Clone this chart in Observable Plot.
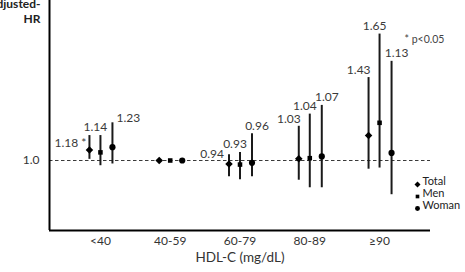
<!DOCTYPE html>
<html>
<head>
<meta charset="utf-8">
<script src="https://cdn.jsdelivr.net/npm/d3@7"></script>
<script src="https://cdn.jsdelivr.net/npm/@observablehq/plot@0.6"></script>
<style>
  html, body { margin: 0; padding: 0; background: #fff; }
  #chart { width: 465px; height: 272px; overflow: hidden; }
  #chart svg { overflow: visible; }
</style>
</head>
<body>
<div id="chart"></div>
<script>
// HDL-C categories (x axis) and groups
const categories = ["<40", "40-59", "60-79", "80-89", "≥90"];
const series = ["Total", "Men", "Woman"];

// Adjusted hazard ratios (point estimates)
const hrTotal = [1.18, 1.00, 0.94, 1.03, 1.43];
const hrMen   = [1.14, 1.00, 0.93, 1.04, 1.65];
const hrWoman = [1.23, 1.00, 0.96, 1.07, 1.13];

// 95% confidence limits
const loTotal = [1.02, 1.00, 0.72, 0.66, 0.85];
const hiTotal = [1.43, 1.00, 1.10, 1.59, 2.43];
const loMen   = [0.91, 1.00, 0.67, 0.53, 0.87];
const hiMen   = [1.43, 1.00, 1.14, 1.80, 3.18];
const loWoman = [0.94, 1.00, 0.72, 0.53, 0.41];
const hiWoman = [1.65, 1.00, 1.46, 1.95, 2.71];

const yTicks = [1.0];
const xTitle = "HDL-C (mg/dL)";
const yTitle = ["Adjusted-", "HR"];
const noteText = "* p<0.05";

// Build one table from the arrays
const values = {
  Total: [hrTotal, loTotal, hiTotal],
  Men:   [hrMen, loMen, hiMen],
  Woman: [hrWoman, loWoman, hiWoman]
};
const rows = [];
for (const s of series) {
  const [hr, lo, hi] = values[s];
  categories.forEach((c, i) => {
    rows.push({series: s, index: i, category: c, hr: hr[i], lo: lo[i], hi: hi[i],
               label: hr[i].toFixed(2) + (lo[i] > 1 ? " *" : "")});
  });
}

// Per-group styling
const symbolOf = {Total: "diamond2", Men: "square2", Woman: "circle"};
const radiusOf = {Total: 3.4, Men: 2.9, Woman: 3.1};
const offsetOf = {Total: -11, Men: 0, Woman: 12};

// Value labels sit just above each whisker; a few are set beside it to stay clear of neighbours
const labelStyle = {
  Total: {textAnchor: "end", dx: 2, dy: -7},
  Men:   {textAnchor: "middle", dx: -5, dy: -8},
  Woman: {textAnchor: "middle", dx: 5, dy: -8}
};
const labelBeside = {
  "<40|Total":   {textAnchor: "end", dx: -3, dy: 8},
  "60-79|Total": {textAnchor: "end", dx: -5, dy: -1},
  "<40|Woman":   {textAnchor: "start", dx: 4, dy: -5}
};

const pad = 0.73;
const xMin = -pad, xMax = categories.length - 1 + pad;
const yMin = -0.207, yMax = 3.759;

const marks = [
  // reference line at HR = 1
  Plot.ruleY(yTicks, {stroke: "#3a3a3a", strokeWidth: 1, strokeDasharray: "3.5,2.5"}),
  // axes
  Plot.axisY({ticks: yTicks, tickSize: 0, tickPadding: 10, tickFormat: d => d.toFixed(1),
              label: null, fontSize: 12, color: "#333"}),
  Plot.axisX({ticks: d3.range(categories.length), tickSize: 0, tickPadding: 6,
              tickFormat: i => categories[i], label: null, fontSize: 12, color: "#333"}),
  Plot.ruleX([xMin], {stroke: "#000", strokeWidth: 2}),
  Plot.ruleY([yMin], {stroke: "#000", strokeWidth: 2}),
  // axis titles and note
  Plot.text([xTitle], {frameAnchor: "bottom", dy: 31, text: d => d, fontSize: 13.5, fill: "#333"}),
  Plot.text([yTitle[0]], {frameAnchor: "top-left", dx: -9, dy: -1, textAnchor: "end", text: d => d,
                          fontSize: 12, fontWeight: "bold", fill: "#222"}),
  Plot.text([yTitle[1]], {frameAnchor: "top-left", dx: -9, dy: 14, textAnchor: "end", text: d => d,
                          fontSize: 12, fontWeight: "bold", fill: "#222"}),
  Plot.text([noteText], {frameAnchor: "top-right", dx: -26, dy: 35, textAnchor: "start",
                         text: d => d, fontSize: 10.5, fill: "#444"})
];

for (const s of series) {
  const data = rows.filter(d => d.series === s);
  const withCI = data.filter(d => d.lo !== d.hi);
  const dx = offsetOf[s];
  marks.push(
    Plot.ruleX(withCI, {x: "index", y1: "lo", y2: "hi", dx, stroke: "#1a1a1a", strokeWidth: 2}),
    Plot.dot(data, {x: "index", y: "hr", dx, symbol: symbolOf[s], r: radiusOf[s], fill: "#000", stroke: "none"})
  );
  for (const d of withCI) {
    const st = labelBeside[d.category + "|" + s] || labelStyle[s];
    marks.push(Plot.text([d], {x: "index", y: "hi", text: "label", fontSize: 12, fill: "#3a3a3a",
                               textAnchor: st.textAnchor, dx: dx + st.dx, dy: st.dy}));
  }
}

// legend in the lower-right corner of the plot
series.forEach((s, i) => {
  marks.push(
    Plot.dot([s], {frameAnchor: "bottom-right", dx: -13, dy: -46 + 12 * i,
                   symbol: symbolOf[s], r: radiusOf[s] * 0.8, fill: "#000", stroke: "none"}),
    Plot.text([s], {frameAnchor: "bottom-right", dx: -8, dy: -46 + 12 * i, textAnchor: "start",
                    text: d => d, fontSize: 11, fill: "#222"})
  );
});

const chart = Plot.plot({
  width: 465,
  height: 272,
  marginTop: 0,
  marginRight: 35,
  marginBottom: 42,
  marginLeft: 49,
  style: {fontFamily: "Lato, 'Open Sans', sans-serif", background: "#fff", overflow: "visible"},
  x: {type: "linear", domain: [xMin, xMax], axis: null},
  y: {type: "linear", domain: [yMin, yMax], axis: null},
  marks
});
document.getElementById("chart").appendChild(chart);
</script>
</body>
</html>
